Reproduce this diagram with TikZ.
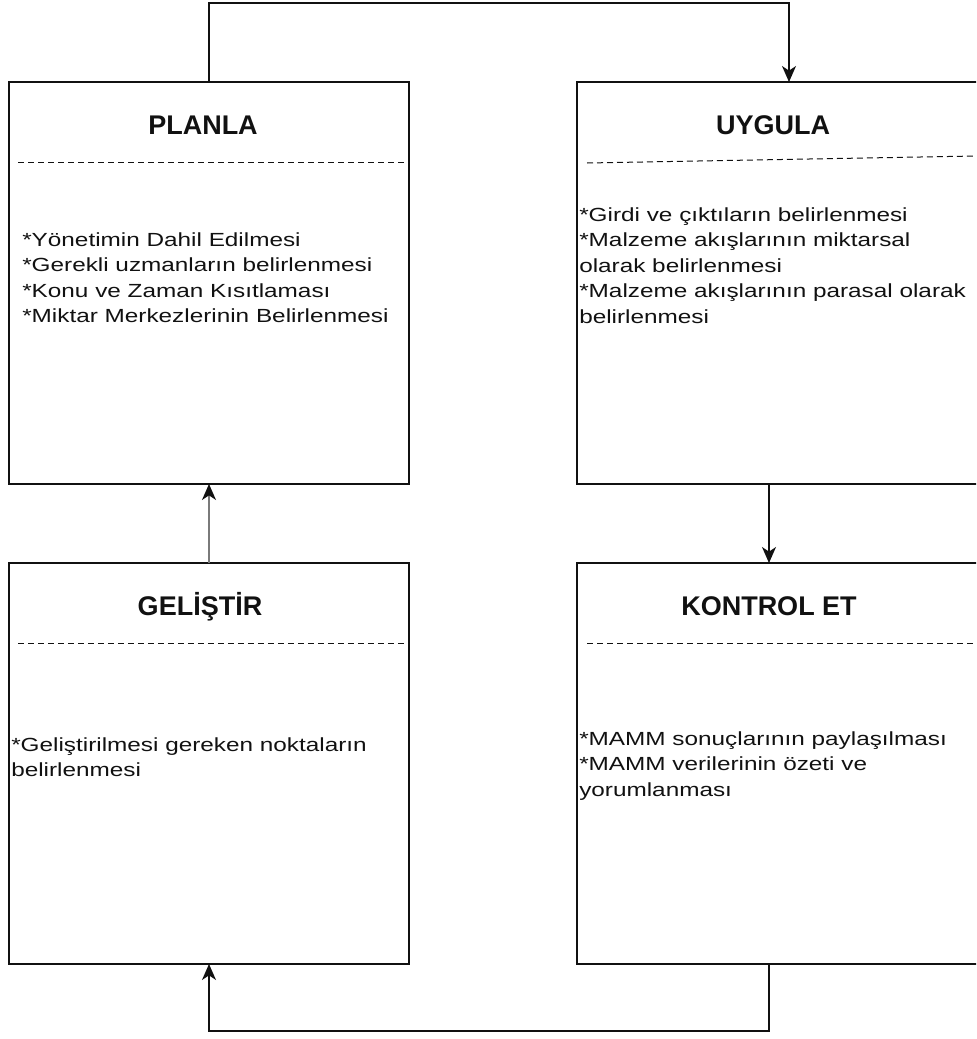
\documentclass[tikz,border=0pt]{standalone}
\usepackage{fontspec}
\setmainfont{Liberation Sans}
\newfontfamily\bodyfont[FakeStretch=1.28]{Liberation Sans}
\usetikzlibrary{arrows.meta,calc}

\definecolor{ink}{HTML}{111111}
\definecolor{linegray}{HTML}{7A7A7A}

\begin{document}
\begin{tikzpicture}[
  x=0.75pt, y=-0.75pt,
  panel/.style={draw=ink, line width=1.1pt, inner sep=0pt, outer sep=0pt,
                anchor=north west, minimum width=#1},
  panel/.default=300pt,
  heading/.style={text=ink, anchor=base, inner sep=0pt,
                  font={\fontsize{20.25pt}{24pt}\selectfont\bfseries}},
  % multi-line nodes: the base anchor sits on the last line
  bodytext/.style={text=ink, anchor=base west, inner sep=0pt, align=left,
                   font={\bodyfont\fontsize{14.25pt}{19.1pt}\selectfont}},
  divider/.style={draw=ink, line width=0.75pt, dash pattern=on 4.5pt off 3pt},
  link/.style={draw=ink, line width=1.1pt,
               -{Stealth[length=12pt, width=10.5pt, inset=3.5pt, color=ink]}},
]
\useasboundingbox (0,0) rectangle (976,1039);
\clip (0,0) rectangle (976,1039);

% the four phase boxes
\node[panel, minimum height=301.5pt] (planla) at (9,82) {};
\node[panel=301.5pt, minimum height=301.5pt] (uygula) at (577,82) {};
\node[panel, minimum height=300.75pt] (gelistir) at (9,563) {};
\node[panel=301.5pt, minimum height=300.75pt] (kontrol) at (577,563) {};

% headings
\node[heading] (tplan) at (203,134) {PLANLA};
\node[heading] (tuyg)  at (773,134) {UYGULA};
\node[heading] (tgel)  at (200,615) {GELİŞTİR};
\node[heading] (tkon)  at (769,615) {KONTROL ET};

% dashed separators under the headings
\draw[divider] (18,162) -- (planla.east |- 0,162);
\draw[divider] (587,163) -- (976,156);
\draw[divider] (18,643) -- (gelistir.east |- 0,643);
\draw[divider] (587,643) -- (976,643);

% box contents
\node[bodytext] (bplan) at (22,322.5) {*Yönetimin Dahil Edilmesi\\
  *Gerekli uzmanların belirlenmesi\\
  *Konu ve Zaman Kısıtlaması\\
  *Miktar Merkezlerinin Belirlenmesi};
\node[bodytext] (buyg) at (579,323) {*Girdi ve çıktıların belirlenmesi\\
  *Malzeme akışlarının miktarsal\\
  olarak belirlenmesi\\
  *Malzeme akışlarının parasal olarak\\
  belirlenmesi};
\node[bodytext] (bgel) at (11,776.5) {*Geliştirilmesi gereken noktaların\\
  belirlenmesi};
\node[bodytext] (bkon) at (579,796) {*MAMM sonuçlarının paylaşılması\\
  *MAMM verilerinin özeti ve\\
  yorumlanması};

% cycle connectors
\draw[link] (planla.north) -- ++(0,-79) -| ([xshift=8.25pt]uygula.north);
\draw[link] ([xshift=-6.75pt]uygula.south) -- ([xshift=-6.75pt]kontrol.north);
\draw[link] ([xshift=-6.75pt]kontrol.south) -- ++(0,67) -| (gelistir.south);
\draw[link, draw=linegray] (gelistir.north) -- (planla.south);
\end{tikzpicture}
\end{document}
